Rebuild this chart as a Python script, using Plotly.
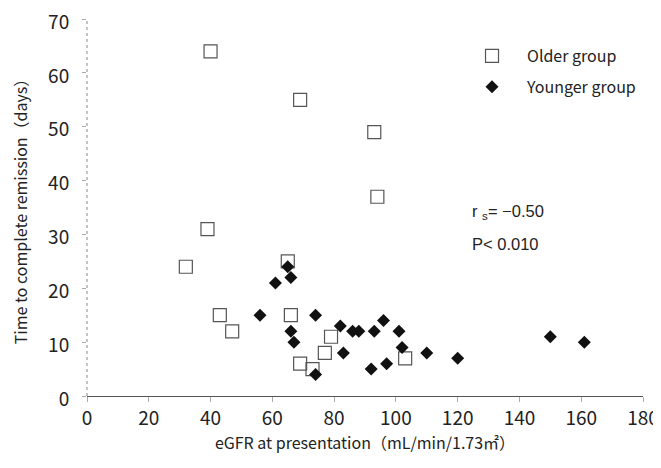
import plotly.graph_objects as go

# Older group (open squares)
older_egfr = [40, 39, 32, 43, 47, 69, 93, 94, 65, 66, 69, 73, 77, 79, 103]
older_days = [64, 31, 24, 15, 12, 55, 49, 37, 25, 15, 6, 5, 8, 11, 7]

# Younger group (filled diamonds)
younger_egfr = [65, 66, 61, 56, 74, 66, 67, 74, 82, 83, 86, 88, 92, 93, 96, 97, 101, 102, 110, 120, 150, 161]
younger_days = [24, 22, 21, 15, 15, 12, 10, 4, 13, 8, 12, 12, 5, 12, 14, 6, 12, 9, 8, 7, 11, 10]

x_ticks = [0, 20, 40, 60, 80, 100, 120, 140, 160, 180]
y_ticks = [0, 10, 20, 30, 40, 50, 60, 70]

JP = "Noto Sans CJK JP"

fig = go.Figure()
fig.add_trace(go.Scatter(
    x=older_egfr, y=older_days, mode="markers", name="Older group",
    legendgroup="a",
    marker=dict(symbol="square-open", size=13, color="#555555", line=dict(width=1.2, color="#555555")),
))
fig.add_trace(go.Scatter(
    x=younger_egfr, y=younger_days, mode="markers", name="Younger group",
    legendgroup="b",
    marker=dict(symbol="diamond", size=10, color="#111111", line=dict(width=0)),
))

fig.update_layout(
    width=653, height=452,
    margin=dict(l=79, r=18, t=11, b=64, autoexpand=False),
    paper_bgcolor="white", plot_bgcolor="white",
    font=dict(family=JP, size=16, color="#222222"),
    showlegend=True,
    legend=dict(
        x=0.6655, y=0.947, xanchor="left", yanchor="top",
        bgcolor="rgba(0,0,0,0)", itemwidth=60, tracegroupgap=7,
        traceorder="grouped",
        font=dict(family=JP, size=16, color="#222222"),
    ),
    xaxis=dict(
        range=[0, 180], tickvals=x_ticks, ticktext=[str(v) for v in x_ticks],
        showgrid=False, zeroline=False, showline=True, linecolor="#555555", linewidth=1,
        ticks="outside", ticklen=5, tickcolor="#aaaaaa", automargin=False,
        ticklabeloverflow="allow",
        tickfont=dict(family=JP, size=19, color="#222222"),
        title=dict(text="eGFR at presentation（mL/min/1.73㎡）", font=dict(family=JP, size=16, color="#222222"), standoff=9),
    ),
    yaxis=dict(
        range=[0, 70], tickvals=y_ticks, ticktext=[str(v) for v in y_ticks],
        showgrid=False, zeroline=False, showline=False,
        ticks="outside", ticklen=4, tickcolor="#aaaaaa", automargin=False,
        ticklabelstandoff=9, ticklabelshift=3, ticklabeloverflow="allow",
        tickfont=dict(family=JP, size=19, color="#222222"),
        title=dict(text="Time to complete remission（days）", font=dict(family=JP, size=16, color="#222222"), standoff=21),
    ),
    shapes=[dict(type="line", xref="paper", yref="paper", x0=0, x1=0, y0=0, y1=1,
                 line=dict(color="#888888", width=1, dash="dot"))],
    annotations=[
        dict(xref="paper", yref="paper", x=0.689, y=0.489, xanchor="left", yanchor="middle",
             text="r <sub>s</sub>= −0.50", showarrow=False,
             font=dict(family="Liberation Sans", size=16.5, color="#222222")),
        dict(xref="paper", yref="paper", x=0.689, y=0.403, xanchor="left", yanchor="middle",
             text="P&lt; 0.010", showarrow=False,
             font=dict(family="Liberation Sans", size=16.5, color="#222222")),
    ],
)

fig.write_html("out.html")
